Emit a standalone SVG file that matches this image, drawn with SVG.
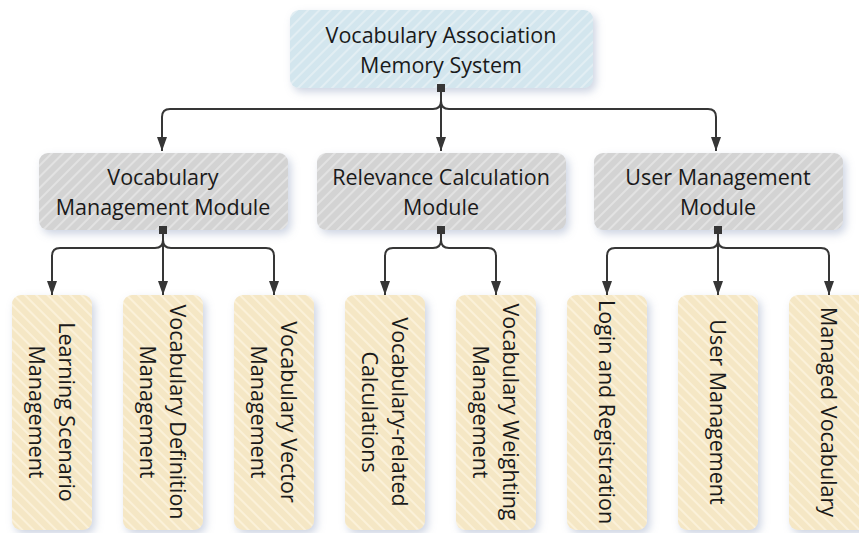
<svg xmlns="http://www.w3.org/2000/svg" width="859" height="533" viewBox="0 0 859 533">
<defs>
<style>
text{font-family:"Open Sans","Liberation Sans",sans-serif;font-size:21.5px;fill:#1a1a1a;text-anchor:middle;dominant-baseline:central}
.conn{fill:none;stroke:#363636;stroke-width:2}
.sq{fill:#363636}
</style>
<pattern id="hBlue" width="8" height="8" patternUnits="userSpaceOnUse" patternTransform="rotate(45)">
<rect width="8" height="8" fill="#d3e6ee"/><rect width="2" height="8" fill="#e2eef3"/>
</pattern>
<pattern id="hGray" width="8" height="8" patternUnits="userSpaceOnUse" patternTransform="rotate(45)">
<rect width="8" height="8" fill="#d3d3d3"/><rect width="2" height="8" fill="#e2e2e2"/>
</pattern>
<pattern id="hBeige" width="8" height="8" patternUnits="userSpaceOnUse" patternTransform="rotate(-45)">
<rect width="8" height="8" fill="#f5e7c5"/><rect width="2" height="8" fill="#fbf1d9"/>
</pattern>
<filter id="sh" x="-20%" y="-20%" width="150%" height="150%">
<feDropShadow dx="3" dy="4" stdDeviation="4" flood-color="#8f9fbf" flood-opacity="0.45"/>
</filter>
<marker id="arr" viewBox="0 0 14 10" refX="14" refY="5" markerWidth="14" markerHeight="10" markerUnits="userSpaceOnUse" orient="auto">
<path d="M0,0 L14,5 L0,10 Z" fill="#363636"/>
</marker>
</defs>

<g id="root">
<rect x="290" y="10" width="303" height="78" rx="9" fill="url(#hBlue)" filter="url(#sh)"/>
<text x="441" y="34">Vocabulary Association</text>
<text x="441" y="64">Memory System</text>
</g>

<g id="vocab-module">
<rect x="39" y="153" width="249" height="77" rx="9" fill="url(#hGray)" filter="url(#sh)"/>
<text x="163" y="176">Vocabulary</text>
<text x="163" y="206">Management Module</text>
</g>
<g id="relevance-module">
<rect x="317" y="153" width="249" height="77" rx="9" fill="url(#hGray)" filter="url(#sh)"/>
<text x="441" y="176">Relevance Calculation</text>
<text x="441" y="206">Module</text>
</g>
<g id="user-module">
<rect x="594" y="153" width="249" height="77" rx="9" fill="url(#hGray)" filter="url(#sh)"/>
<text x="718" y="176">User Management</text>
<text x="718" y="206">Module</text>
</g>

<g id="learning-scenario">
<rect x="12" y="295" width="80" height="235" rx="9" fill="url(#hBeige)" filter="url(#sh)"/>
<g transform="translate(52,412) rotate(90)"><text y="-15">Learning Scenario</text><text y="15">Management</text></g>
</g>
<g id="vocab-definition">
<rect x="123" y="295" width="80" height="235" rx="9" fill="url(#hBeige)" filter="url(#sh)"/>
<g transform="translate(163,412) rotate(90)"><text y="-15">Vocabulary Definition</text><text y="15">Management</text></g>
</g>
<g id="vocab-vector">
<rect x="234" y="295" width="80" height="235" rx="9" fill="url(#hBeige)" filter="url(#sh)"/>
<g transform="translate(274,412) rotate(90)"><text y="-15">Vocabulary Vector</text><text y="15">Management</text></g>
</g>
<g id="vocab-calc">
<rect x="345" y="295" width="80" height="235" rx="9" fill="url(#hBeige)" filter="url(#sh)"/>
<g transform="translate(385,412) rotate(90)"><text y="-15">Vocabulary-related</text><text y="15">Calculations</text></g>
</g>
<g id="vocab-weighting">
<rect x="456" y="295" width="80" height="235" rx="9" fill="url(#hBeige)" filter="url(#sh)"/>
<g transform="translate(496,412) rotate(90)"><text y="-15">Vocabulary Weighting</text><text y="15">Management</text></g>
</g>
<g id="login">
<rect x="567" y="295" width="80" height="235" rx="9" fill="url(#hBeige)" filter="url(#sh)"/>
<g transform="translate(607,412) rotate(90)"><text>Login and Registration</text></g>
</g>
<g id="user-management">
<rect x="678" y="295" width="80" height="235" rx="9" fill="url(#hBeige)" filter="url(#sh)"/>
<g transform="translate(718,412) rotate(90)"><text>User Management</text></g>
</g>
<g id="managed-vocab">
<rect x="789" y="295" width="80" height="235" rx="9" fill="url(#hBeige)" filter="url(#sh)"/>
<g transform="translate(829,412) rotate(90)"><text>Managed Vocabulary</text></g>
</g>

<g id="connectors">
<path class="conn" d="M441,92 V101 Q441,109 433,109 H170 Q162,109 162,117 V151" marker-end="url(#arr)"/>
<path class="conn" d="M441,92 V151" marker-end="url(#arr)"/>
<path class="conn" d="M441,92 V101 Q441,109 449,109 H708 Q716,109 716,117 V151" marker-end="url(#arr)"/>
<rect class="sq" x="437" y="84" width="8" height="8"/>

<path class="conn" d="M163,234 V240 Q163,248 155,248 H60 Q52,248 52,256 V295" marker-end="url(#arr)"/>
<path class="conn" d="M163,234 V295" marker-end="url(#arr)"/>
<path class="conn" d="M163,234 V240 Q163,248 171,248 H266 Q274,248 274,256 V295" marker-end="url(#arr)"/>
<rect class="sq" x="159" y="226" width="8" height="8"/>

<path class="conn" d="M441,234 V240 Q441,248 433,248 H393 Q385,248 385,256 V295" marker-end="url(#arr)"/>
<path class="conn" d="M441,234 V240 Q441,248 449,248 H488 Q496,248 496,256 V295" marker-end="url(#arr)"/>
<rect class="sq" x="437" y="226" width="8" height="8"/>

<path class="conn" d="M718,234 V240 Q718,248 710,248 H615 Q607,248 607,256 V295" marker-end="url(#arr)"/>
<path class="conn" d="M718,234 V295" marker-end="url(#arr)"/>
<path class="conn" d="M718,234 V240 Q718,248 726,248 H821 Q829,248 829,256 V295" marker-end="url(#arr)"/>
<rect class="sq" x="714" y="226" width="8" height="8"/>
</g>
</svg>
